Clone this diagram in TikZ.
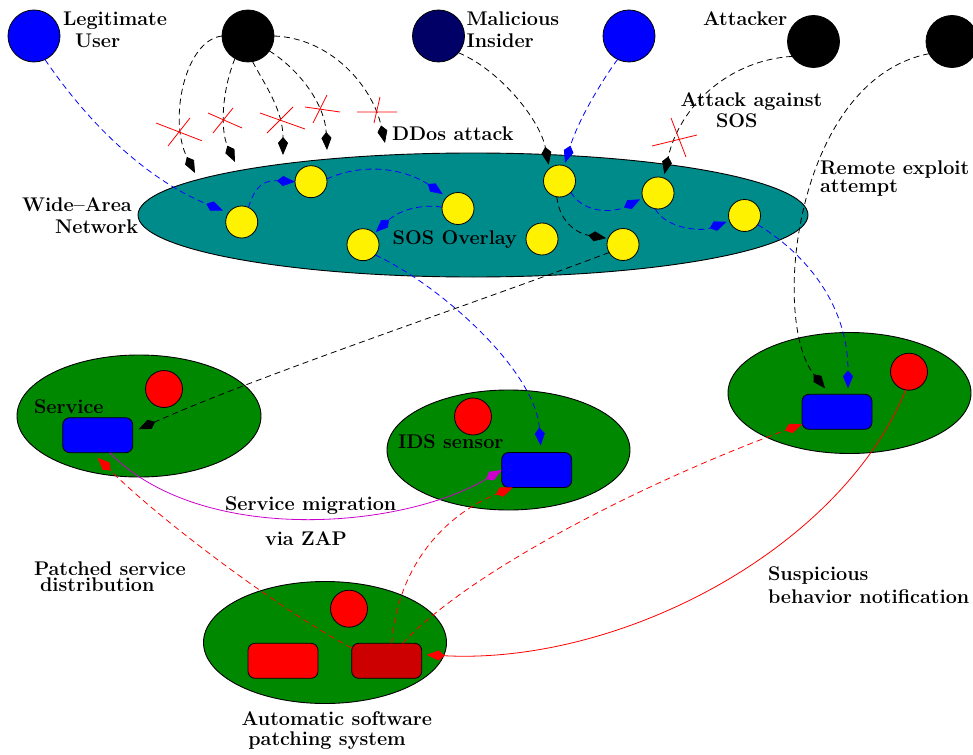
\documentclass[tikz,border=0pt]{standalone}
\usepackage{fontspec}
\usetikzlibrary{shapes.geometric,arrows.meta}
\definecolor{wancol}{HTML}{008B8B}
\definecolor{hostgreen}{HTML}{008800}
\definecolor{navyu}{HTML}{000066}
\definecolor{zapcol}{HTML}{CC00CC}
\definecolor{darkredbox}{HTML}{CC0000}
\tikzset{
  every node/.style={inner sep=0pt, outer sep=0pt},
  person/.style={circle, draw=black, line width=0.8pt, minimum size=52pt},
  sosn/.style={circle, draw=black, line width=0.8pt, fill=yellow, minimum size=32pt},
  redn/.style={circle, draw=black, line width=0.8pt, fill=red, minimum size=37pt},
  host/.style={ellipse, draw=black, line width=0.9pt, fill=hostgreen},
  svcbx/.style={rectangle, rounded corners=7pt, draw=black, line width=0.8pt, fill=blue, minimum width=70pt, minimum height=35pt},
  lbl/.style={anchor=base west, font=\fontsize{19.8}{21}\selectfont\bfseries},
  conn/.style={line width=0.8pt, -{Kite[length=18pt,width=10pt,inset=6pt]}},
  dsh/.style={dash pattern=on 6pt off 4pt},
  xmark/.style={red, line width=0.8pt},
}
\begin{document}
\begin{tikzpicture}[x=1pt,y=1pt]
\useasboundingbox[fill=white] (0,0) rectangle (973,-754);

% ---------- top users ----------
\node[person, fill=blue] (legit) at (34,-36) {};
\node[person, fill=black] (ddos) at (248,-36) {};
\node[person, fill=navyu] (insider) at (438.5,-36) {};
\node[person, fill=blue] (blueu) at (629,-36) {};
\node[person, fill=black] (attacker) at (813.5,-41.5) {};
\node[person, fill=black] (attacker2) at (952,-41.5) {};

% ---------- wide-area network ----------
\node[ellipse, draw=black, line width=0.9pt, fill=wancol, minimum width=670pt, minimum height=124pt] (wan) at (473,-215) {};
\node[sosn] (y1) at (241.7,-222) {};
\node[sosn] (y2) at (311,-181.7) {};
\node[sosn] (y3) at (458,-208.5) {};
\node[sosn] (y4) at (363,-244.7) {};
\node[sosn] (y5) at (542,-239) {};
\node[sosn] (y6) at (559.5,-181) {};
\node[sosn] (y7) at (658,-193) {};
\node[sosn] (y8) at (744.5,-215.5) {};
\node[sosn] (y9) at (623,-244.5) {};

% ---------- hosts ----------
\node[host, minimum width=244pt, minimum height=122pt] (svc) at (139,-416) {};
\node[host, minimum width=243pt, minimum height=120pt] (ids) at (508.5,-450) {};
\node[host, minimum width=243pt, minimum height=121pt] (tgt) at (849.5,-393) {};
\node[host, minimum width=243pt, minimum height=122pt] (patch) at (325,-642.5) {};

\node[redn] (rs) at (164,-389) {};
\node[redn] (ri) at (473,-416.5) {};
\node[redn] (rt) at (909,-371.7) {};
\node[redn] (rp) at (349,-608.7) {};

\node[svcbx] (svcbox) at (97.7,-435.2) {};
\node[svcbx] (idsbox) at (536.7,-470) {};
\node[svcbx] (tgtbox) at (837,-411.8) {};
\node[svcbx, fill=red] (pbox1) at (283,-660.8) {};
\node[svcbx, fill=darkredbox] (pbox2) at (386.7,-660.8) {};

% ---------- DDoS attack targets ----------
\coordinate (d1) at (195,-173);
\coordinate (d2) at (235,-162);
\coordinate (d3) at (283,-155);
\coordinate (d4) at (327,-150);
\coordinate (d5) at (385,-143);

\draw[conn, dsh] (ddos.180) .. controls (185,-40) and (168,-120) .. (d1);
\draw[conn, dsh] (ddos.-120) .. controls (222,-90) and (220,-130) .. (d2);
\draw[conn, dsh] (ddos.-80) .. controls (265,-85) and (283,-110) .. (d3);
\draw[conn, dsh] (ddos.-35) .. controls (300,-70) and (325,-105) .. (d4);
\draw[conn, dsh] (ddos.0) .. controls (330,-38) and (372,-85) .. (d5);

% ---------- legitimate path (blue) ----------
\draw[conn, dsh, blue, shorten >=6pt] (legit.-65) .. controls (100,-140) and (160,-185) .. (y1.145);
\draw[conn, dsh, blue] (y1.65) .. controls (255,-185) and (265,-180) .. (y2.west);
\draw[conn, dsh, blue, shorten >=5pt] (y2.10) .. controls (370,-160) and (410,-172) .. (y3.134);
\draw[conn, dsh, blue, shorten >=2pt] (y3.175) .. controls (415,-203) and (395,-214) .. (y4.45);
\draw[conn, dsh, blue] (y4.-40) .. controls (440,-285) and (535,-370) .. ([xshift=4pt,yshift=7pt]idsbox.north);

% ---------- malicious insider ----------
\draw[conn, dsh, shorten >=4pt] (insider.-40) .. controls (500,-70) and (540,-120) .. (y6.129);
\draw[conn, dsh, blue, shorten >=3pt] (blueu.-116) .. controls (608,-72) and (580,-115) .. (y6.73);
\draw[conn, dsh, blue, shorten >=3pt] (y6.-45) .. controls (585,-215) and (615,-212) .. (y7.198);
\draw[conn, dsh, blue, shorten >=3pt] (y7.-100) .. controls (665,-228) and (700,-232) .. (y8.199);
\draw[conn, dsh, blue] (y8.-35) .. controls (800,-250) and (848,-300) .. ([xshift=11pt,yshift=6pt]tgtbox.north);
\draw[conn, dsh, shorten >=2pt] (y6.-100) .. controls (560,-225) and (580,-234) .. (y9.158);
\draw[conn, dsh] (y9.-150) .. controls (470,-305) and (260,-375) .. ([xshift=6pt,yshift=6pt]svcbox.east);

% ---------- attackers ----------
\draw[conn, dsh, shorten >=4pt] (attacker.-145) .. controls (730,-60) and (680,-105) .. (y7.70);
\draw[conn, dsh] (attacker2.-152) .. controls (795,-80) and (770,-320) .. ([xshift=-12pt,yshift=6pt]tgtbox.north);

% ---------- bottom connectors ----------
\draw[conn, zapcol] ([xshift=12pt]svcbox.south) .. controls (200,-545) and (400,-530) .. (idsbox.west);
\draw[conn, dsh, red] (pbox2.160) .. controls (280,-610) and (160,-520) .. ([yshift=-5pt]svcbox.south);
\draw[conn, dsh, red] ([xshift=5pt]pbox2.north) .. controls (398,-565) and (445,-515) .. ([xshift=11pt]idsbox.south west);
\draw[conn, dsh, red] ([xshift=16pt]pbox2.north) .. controls (470,-570) and (650,-480) .. ([yshift=5pt]tgtbox.south west);
\draw[conn, red] (rt.-100) .. controls (840,-550) and (620,-665) .. ([xshift=5pt,yshift=6pt]pbox2.east);

% ---------- crosses ----------
\draw[xmark] (156,-123) -- (201.7,-140.7) (168,-146) -- (190,-118);
\draw[xmark] (208,-113) -- (242,-128) (213,-133) -- (233,-108);
\draw[xmark] (260,-113) -- (305,-129) (267,-133) -- (293,-107);
\draw[xmark] (305,-107) -- (340,-112) (313,-123) -- (327,-95);
\draw[xmark] (357,-112) -- (397,-112) (374,-123) -- (380,-97);
\draw[xmark] (652,-146) -- (697,-135) (671,-118) -- (686,-157);

% ---------- labels ----------
\node[lbl] (tLegit) at (63,-26) {Legitimate};
\node[lbl] (tUser) at (75,-48) {User};
\node[lbl] (tMal) at (466.5,-26) {Malicious};
\node[lbl] (tIns) at (466.5,-48) {Insider};
\node[lbl] (tAtt) at (703,-26) {Attacker};
\node[lbl] (tAas) at (680.7,-107) {Attack against};
\node[lbl] (tSOS) at (716,-128) {SOS};
\node[lbl] (tDDos) at (392,-141) {DDos attack};
\node[lbl] (tRem) at (820,-175) {Remote exploit};
\node[lbl] (tAtm) at (820,-192) {attempt};
\node[lbl] (tWide) at (22,-211) {Wide--Area};
\node[lbl] (tNet) at (55,-233) {Network};
\node[lbl] (tOver) at (392.7,-244) {SOS Overlay};
\node[lbl] (tSvc) at (34,-413) {Service};
\node[lbl] (tIDS) at (398,-448) {IDS sensor};
\node[lbl] (tMig) at (225,-510) {Service migration};
\node[lbl] (tZAP) at (265,-545) {via ZAP};
\node[lbl] (tPat) at (34,-575) {Patched service};
\node[lbl] (tDis) at (40,-591) {distribution};
\node[lbl] (tSus) at (768,-580) {Suspicious};
\node[lbl] (tBeh) at (768,-603) {behavior notification};
\node[lbl] (tAuto) at (241.7,-725) {Automatic software};
\node[lbl] (tPsys) at (248.3,-745) {patching system};
\end{tikzpicture}
\end{document}
